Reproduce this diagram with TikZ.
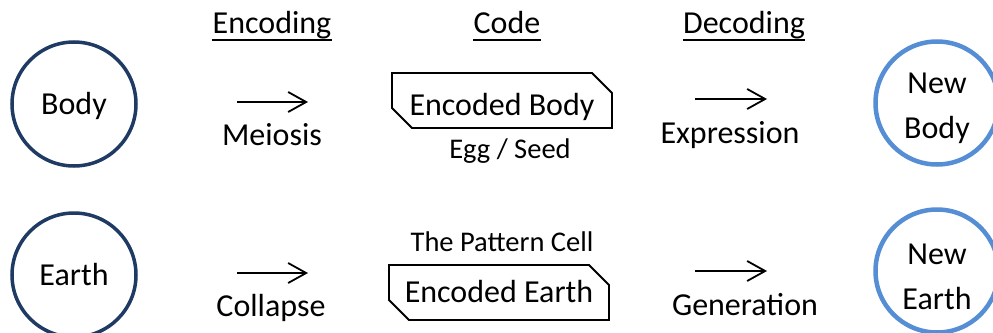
\documentclass[tikz,border=0pt]{standalone}
\usepackage{fontspec}
\setmainfont{Carlito}
\usetikzlibrary{shapes.misc,arrows.meta}
\definecolor{oldblue}{HTML}{1F3B64}
\definecolor{newblue}{HTML}{558ED5}
\tikzset{
  oldform/.style={circle, draw=oldblue, line width=3.5pt, minimum size=124pt, inner sep=0pt, text height=27pt, text depth=7pt, font=\fontsize{32}{38}\selectfont},
  newform/.style={circle, draw=newblue, line width=4.5pt, minimum size=123pt, inner sep=0pt, align=center, font=\fontsize{32}{45}\selectfont},
  codebox/.style={chamfered rectangle, chamfered rectangle corners={north east,south west}, chamfered rectangle sep=10pt, draw, line width=1.8pt, inner sep=0pt, minimum width=220pt, minimum height=55pt, font=\fontsize{32}{38}\selectfont},
  heading/.style={inner sep=0pt, anchor=base, font=\fontsize{32}{38}\selectfont},
  procname/.style={inner sep=0pt, anchor=base, font=\fontsize{32}{38}\selectfont},
  smalltext/.style={inner sep=0pt, anchor=base, font=\fontsize{28.5}{34}\selectfont},
  flow/.style={line width=1.8pt, -{Straight Barb[length=18pt,width=20pt]}}
}
\newcommand{\pushdown}{\rule{0pt}{32pt}}
\begin{document}
\begin{tikzpicture}[x=1pt,y=-1pt]
    \useasboundingbox (0,0) rectangle (993,332);
    % headings
    \node (enc) [heading] at (272,33) {Encoding};
    \node (code) [heading] at (507,33) {Code};
    \node (dec) [heading] at (744,33) {Decoding};
    \draw[line width=2.5pt] ([yshift=-7pt]enc.base west) -- ([yshift=-7pt]enc.base east);
    \draw[line width=2.5pt] ([yshift=-7pt]code.base west) -- ([yshift=-7pt]code.base east);
    \draw[line width=2.5pt] ([yshift=-7pt]dec.base west) -- ([yshift=-7pt]dec.base east);

    % body row
    \node (body) [oldform] at (74,104) {Body};
    \coordinate (meio1) at (237,102);
    \coordinate (meio2) at (308,102);
    \draw[flow] (meio1) -- (meio2);
    \node (meiosis) [procname] at (272,145) {Meiosis};
    \node (encbody) [codebox, text height=30pt, text depth=0pt] at (502,100.5) {Encoded Body};
    \node (egg) [smalltext] at (510,158) {Egg / Seed};
    \coordinate (expr1) at (695,99);
    \coordinate (expr2) at (767,99);
    \draw[flow] (expr1) -- (expr2);
    \node (expression) [procname] at (730,143) {Expression};
    \node (newbody) [newform] at (937,103) {\pushdown New\\Body};

    % earth row
    \node (earth) [oldform] at (74,275) {Earth};
    \coordinate (coll1) at (237,273);
    \coordinate (coll2) at (308,273);
    \draw[flow] (coll1) -- (coll2);
    \node (collapse) [procname] at (271,316) {Collapse};
    \node (cell) [smalltext] at (502,251) {The Pattern Cell};
    \node (encearth) [codebox, text height=22pt, text depth=2pt] at (499,292.5) {Encoded Earth};
    \coordinate (gen1) at (695,271);
    \coordinate (gen2) at (767,271);
    \draw[flow] (gen1) -- (gen2);
    \node (generation) [procname] at (745,315) {Generation};
    \node (newearth) [newform] at (937,271) {\pushdown New\\Earth};
\end{tikzpicture}
\end{document}
